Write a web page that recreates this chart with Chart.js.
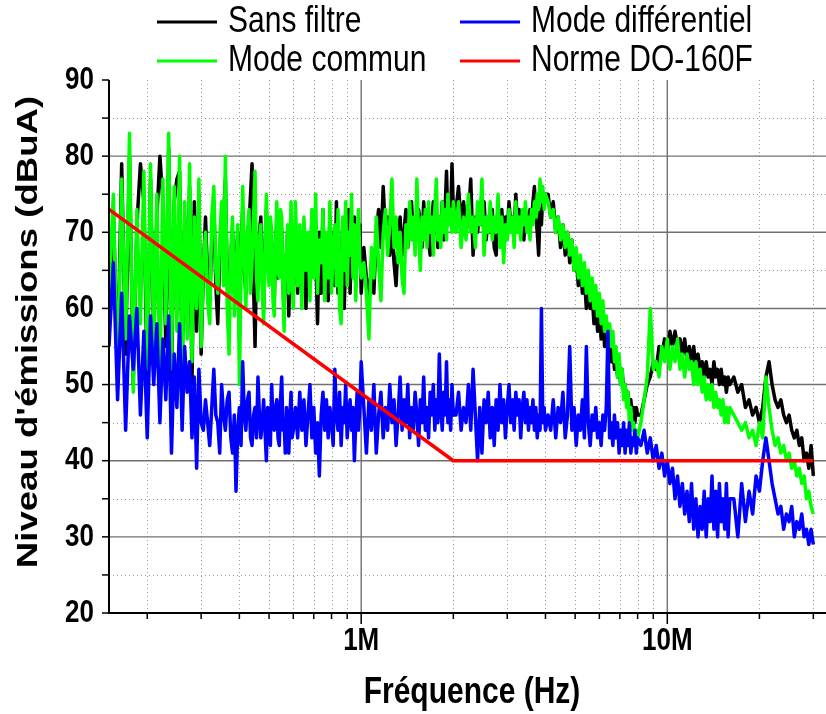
<!DOCTYPE html>
<html>
<head>
<meta charset="utf-8">
<script src="https://cdn.jsdelivr.net/npm/chart.js@4.4.0/dist/chart.umd.min.js"></script>
<style>
  html, body { margin: 0; padding: 0; background: #ffffff; }
  #wrap { width: 826px; height: 714px; }
</style>
</head>
<body>
<div id="wrap"><canvas id="c" width="826" height="714"></canvas></div>
<script>
// Frequencies in MHz (shared by the three measured spectra)
const freqMHz = [
  0.150,0.155,0.160,0.165,0.170,0.175,0.180,0.185,0.190,0.195,0.200,0.205,0.210,0.215,0.220,0.225,0.230,0.235,0.240,0.245,0.250,0.255,0.260,0.265,0.270,0.275,0.280,0.285,0.290,0.295,0.300,
  0.305,0.310,0.315,0.320,0.325,0.330,0.335,0.340,0.345,0.350,0.355,0.360,0.365,0.370,0.375,0.380,0.385,0.390,0.395,0.400,
  0.405,0.410,0.415,0.420,0.425,0.430,0.435,0.440,0.445,0.450,0.455,0.460,0.465,0.470,0.475,0.480,0.485,0.490,0.495,0.500,
  0.505,0.510,0.515,0.520,0.525,0.530,0.535,0.540,0.545,0.550,0.555,0.560,0.565,0.570,0.575,0.580,0.585,0.590,0.595,0.600,
  0.61,0.62,0.63,0.64,0.65,0.66,0.67,0.68,0.69,0.70,0.71,0.72,0.73,0.74,0.75,0.76,0.77,0.78,0.79,0.80,0.81,0.82,0.83,0.84,0.85,0.86,0.87,0.88,0.89,0.90,0.91,0.92,0.93,0.94,0.95,0.96,0.97,0.98,0.99,1.00,
  1.02,1.04,1.06,1.08,1.10,1.12,1.14,1.16,1.18,1.20,1.22,1.24,1.26,1.28,1.30,1.32,1.34,1.36,1.38,1.40,1.42,1.44,1.46,1.48,1.50,1.52,1.54,1.56,1.58,1.60,1.62,1.64,1.66,1.68,1.70,1.72,1.74,1.76,1.78,1.80,1.82,1.84,1.86,1.88,1.90,1.92,1.94,1.96,1.98,2.00,
  2.04,2.08,2.12,2.16,2.20,2.24,2.28,2.32,2.36,2.40,2.44,2.48,2.52,2.56,2.60,2.64,2.68,2.72,2.76,2.80,2.84,2.88,2.92,2.96,3.00,3.04,3.08,3.12,3.16,3.20,3.24,3.28,3.32,3.36,3.40,3.44,3.48,3.52,3.56,3.60,3.64,3.68,3.72,3.76,3.80,3.84,3.88,3.92,3.96,4.00,
  4.08,4.16,4.24,4.32,4.40,4.48,4.56,4.64,4.72,4.80,4.88,4.96,5.04,5.12,5.20,5.28,5.36,5.44,5.52,5.60,5.68,5.76,5.84,5.92,6.00,6.08,6.16,6.24,6.32,6.40,6.48,6.56,6.64,6.72,6.80,6.88,6.96,7.04,7.12,7.20,7.28,7.36,7.44,7.52,7.60,7.68,7.76,7.84,7.92,8.00,
  8.2,8.4,8.6,8.8,9.0,9.2,9.4,9.6,9.8,10.0,10.2,10.4,10.6,10.8,11.0,11.2,11.4,11.6,11.8,12.0,12.2,12.4,12.6,12.8,13.0,13.2,13.4,13.6,13.8,14.0,14.2,14.4,14.6,14.8,15.0,15.2,15.4,15.6,15.8,16.0,
  16.5,17.0,17.5,18.0,18.5,19.0,19.5,20.0,20.5,21.0,21.5,22.0,22.5,23.0,23.5,24.0,24.5,25.0,25.5,26.0,26.5,27.0,27.5,28.0,28.5,29.0,29.5,30.0
];

// Emission levels in dBuA
const sansFiltre = [
  58,73,52,79,54,80,50,71,79,74,50,77,56,72,80,74,55,81,50,74,77,78,52,72,58,76,50,74,57,75,54,
  65,72,64,61,69,74,63,58,67,70,72,77,64,60,67,70,62,66,70,56,
  68,73,65,62,68,71,75,79,63,55,66,64,70,72,64,60,68,73,67,65,
  71,68,63,61,69,71,64,66,72,70,63,60,65,67,70,59,66,72,68,63,
  70,62,68,64,71,60,69,63,72,65,68,58,70,62,73,64,69,61,72,66,70,63,74,62,68,65,71,60,67,64,73,62,70,65,72,63,69,66,71,62,
  68,64,61,66,62,70,73,68,76,70,72,67,71,66,63,69,72,67,70,73,68,71,74,69,72,70,73,71,68,74,70,72,69,67,71,74,70,73,68,72,70,74,69,73,78,71,74,72,79,73,
  73,76,71,74,70,72,77,67,72,70,73,71,74,69,72,70,73,68,67,72,70,73,69,72,70,74,71,72,70,75,71,73,70,72,69,73,71,70,73,71,74,76,72,70,67,73,71,75,74,75,
  75,72,74,70,72,68,71,67,70,66,69,65,67,63,66,62,64,60,63,60,62,58,61,57,60,56,59,55,58,54,57,53,55,52,54,51,53,50,52,49,50,48,49,47,48,46,47,45,47,46,
  46,48,50,51,53,52,55,54,56,54,57,55,57,55,56,54,56,53,55,53,55,52,54,52,53,51,53,51,52,50,53,51,52,50,52,50,51,49,51,50,
  51,49,50,47,48,46,47,45,47,51,53,50,48,47,48,46,45,46,44,43,44,42,43,40,41,39,42,38
];

const modeDifferentiel = [
  55,66,48,62,44,59,52,60,46,57,43,59,50,58,45,56,48,59,41,54,47,58,44,55,49,53,43,51,39,52,45,
  44,48,45,42,47,52,46,45,41,50,46,44,48,49,43,41,46,36,44,47,
  42,53,46,44,48,49,43,42,46,47,43,51,46,43,45,48,44,40,47,46,
  42,50,45,44,47,48,43,42,48,51,44,45,41,47,44,41,46,49,43,44,
  47,43,49,44,48,42,46,50,43,47,41,45,38,46,49,44,48,43,47,45,42,52,46,44,49,42,47,45,50,43,46,48,44,47,40,45,49,44,47,53,
  47,41,48,44,50,41,46,49,43,47,44,50,45,48,42,46,51,44,48,45,50,43,47,44,49,46,42,48,45,51,44,47,43,49,46,50,44,48,45,54,47,44,49,46,53,45,48,44,50,46,
  46,49,44,47,45,50,44,52,46,40,47,41,48,45,49,43,47,42,48,44,50,45,48,43,47,50,45,48,44,49,46,48,43,47,49,45,48,44,47,45,48,44,47,43,46,44,60,45,47,44,
  46,44,48,43,47,45,49,43,46,55,44,47,42,46,44,48,43,55,45,42,46,44,47,43,45,42,46,44,47,57,43,45,42,46,43,45,41,44,42,45,41,44,42,45,41,43,42,44,41,43,
  42,44,41,43,40,42,39,41,38,40,37,39,35,38,34,37,33,36,32,37,31,35,30,34,31,36,30,35,32,38,31,36,30,37,32,35,31,37,30,35,
  35,30,37,32,36,33,38,36,40,43,40,37,35,33,34,31,33,32,34,30,32,31,33,30,31,29,31,29
];

const modeCommun = [
  62,75,50,77,56,83,49,73,58,78,52,79,55,75,50,77,58,83,52,76,57,80,50,74,56,79,53,72,60,77,55,
  66,70,61,58,72,76,65,62,69,74,63,80,60,54,68,72,59,64,71,50,
  65,76,67,60,70,73,62,66,72,78,64,61,69,71,63,58,67,75,66,63,
  72,70,61,59,68,74,65,64,73,72,62,57,66,68,71,62,67,74,63,60,
  74,63,71,60,72,65,70,61,73,64,75,62,69,66,73,61,70,64,74,62,68,71,63,73,60,58,72,65,74,63,70,67,75,64,71,61,69,73,66,64,
  66,62,56,68,64,72,66,61,70,73,67,71,77,68,72,66,70,64,62,71,68,74,69,72,67,77,70,65,72,69,73,68,74,70,72,67,73,77,69,72,68,74,70,73,69,75,71,73,70,74,
  70,74,68,72,69,75,70,72,68,74,71,77,67,72,70,74,69,72,70,75,68,72,66,71,69,73,70,72,68,74,70,72,69,73,71,74,70,72,69,73,71,74,72,75,73,77,74,76,73,75,
  74,72,73,70,72,69,71,68,70,67,69,65,68,64,67,63,66,62,65,61,64,60,63,59,62,58,61,57,59,56,58,55,57,53,55,51,54,50,52,48,50,47,49,45,47,44,45,43,44,43,
  45,48,51,60,52,53,51,55,53,56,52,55,53,56,52,54,51,54,52,53,50,53,50,52,49,51,48,50,48,50,47,49,47,48,46,48,45,47,45,47,
  46,45,44,45,43,44,42,45,43,51,47,44,42,43,41,42,40,41,39,40,38,39,37,38,35,36,34,33
];

// DO-160F limit (breakpoints)
const normeFreq = [0.15, 2, 30];
const normeLevel = [73, 40, 40];

// Axis ticks
const yMajorTicks = [20, 30, 40, 50, 60, 70, 80, 90];
const yMinorTicks = [25, 35, 45, 55, 65, 75, 85];
const xMajorTicks = [1, 10];
const xMajorLabels = ['1M', '10M'];
const xMinorTicks = [0.2, 0.3, 0.4, 0.5, 0.6, 0.7, 0.8, 0.9, 2, 3, 4, 5, 6, 7, 8, 9, 20, 30];

const seriesNames = ['Sans filtre', 'Mode différentiel', 'Mode commun', 'Norme DO-160F'];
const seriesColors = ['#000000', '#0000ff', '#00ff00', '#ff0000'];

const toPoints = (xs, ys) => xs.map((f, i) => ({ x: f, y: ys[i] }));

const FONT = "'Liberation Sans', Arial, Helvetica, sans-serif";
const TEXT_STRETCH = 1.22;

// Text drawn with a vertical stretch (tall, narrow lettering)
function drawText(ctx, text, x, y, font, align, rotated) {
  ctx.save();
  ctx.translate(x, y);
  ctx.scale(1, TEXT_STRETCH);
  if (rotated) ctx.rotate(-Math.PI / 2);
  ctx.font = font;
  ctx.fillStyle = '#000000';
  ctx.textAlign = align;
  ctx.textBaseline = 'middle';
  ctx.fillText(text, 0, 0);
  ctx.restore();
}

const gridPlugin = {
  id: 'plotGrid',
  beforeDatasetsDraw(chart) {
    const { ctx, chartArea: a, scales: { x, y } } = chart;
    ctx.save();
    // dotted minor grid
    ctx.strokeStyle = '#9a9a9a';
    ctx.lineWidth = 1;
    ctx.setLineDash([1, 3]);
    yMinorTicks.forEach(v => {
      const py = Math.round(y.getPixelForValue(v)) + 0.5;
      ctx.beginPath(); ctx.moveTo(a.left, py); ctx.lineTo(a.right, py); ctx.stroke();
    });
    xMinorTicks.forEach(v => {
      const px = Math.round(x.getPixelForValue(v)) + 0.5;
      ctx.beginPath(); ctx.moveTo(px, a.top); ctx.lineTo(px, a.bottom); ctx.stroke();
    });
    // solid major grid
    ctx.setLineDash([]);
    ctx.strokeStyle = '#707070';
    ctx.lineWidth = 1.4;
    yMajorTicks.filter(v => v > 20 && v < 90).forEach(v => {
      const py = y.getPixelForValue(v);
      ctx.beginPath(); ctx.moveTo(a.left, py); ctx.lineTo(a.right, py); ctx.stroke();
    });
    xMajorTicks.forEach(v => {
      const px = x.getPixelForValue(v);
      ctx.beginPath(); ctx.moveTo(px, a.top); ctx.lineTo(px, a.bottom); ctx.stroke();
    });
    ctx.restore();
  }
};

const framePlugin = {
  id: 'plotFrame',
  afterDatasetsDraw(chart) {
    const { ctx, chartArea: a, scales: { x, y } } = chart;
    ctx.save();
    ctx.strokeStyle = '#000000';
    ctx.lineWidth = 2;
    // axis lines
    ctx.beginPath(); ctx.moveTo(a.left, a.top); ctx.lineTo(a.left, a.bottom); ctx.stroke();
    ctx.beginPath(); ctx.moveTo(a.left - 1, a.bottom); ctx.lineTo(a.right, a.bottom); ctx.stroke();
    // y ticks
    ctx.lineWidth = 1.5;
    yMajorTicks.concat(yMinorTicks).forEach(v => {
      const py = y.getPixelForValue(v);
      ctx.beginPath(); ctx.moveTo(a.left - 7, py); ctx.lineTo(a.left, py); ctx.stroke();
    });
    // x ticks
    xMinorTicks.forEach(v => {
      const px = x.getPixelForValue(v);
      ctx.beginPath(); ctx.moveTo(px, a.bottom); ctx.lineTo(px, a.bottom + 6); ctx.stroke();
    });
    xMajorTicks.forEach(v => {
      const px = x.getPixelForValue(v);
      ctx.beginPath(); ctx.moveTo(px, a.bottom); ctx.lineTo(px, a.bottom + 11); ctx.stroke();
    });
    // tick labels
    const tickFont = `bold 26px ${FONT}`;
    yMajorTicks.forEach(v => drawText(ctx, String(v), a.left - 15, y.getPixelForValue(v), tickFont, 'right'));
    xMajorTicks.forEach((v, i) => drawText(ctx, xMajorLabels[i], x.getPixelForValue(v), a.bottom + 28, tickFont, 'center'));
    // axis titles
    drawText(ctx, 'Fréquence (Hz)', 472, 693, `bold 30px ${FONT}`, 'center');
    drawText(ctx, "Niveau d'émissions (dBuA)", 29, 332, `bold 30px ${FONT}`, 'center', true);
    // legend, two columns
    const cols = [157, 460];
    const rows = [22, 61];
    chart.data.datasets.forEach((ds, i) => {
      const lx = cols[i % 2];
      const ly = rows[Math.floor(i / 2)];
      ctx.strokeStyle = ds.borderColor;
      ctx.lineWidth = 3;
      ctx.beginPath(); ctx.moveTo(lx, ly); ctx.lineTo(lx + 60, ly); ctx.stroke();
      drawText(ctx, ds.label, lx + 71, ly, `30px ${FONT}`, 'left');
    });
    ctx.restore();
  }
};

const lineStyle = (i, order, width) => ({
  label: seriesNames[i],
  borderColor: seriesColors[i],
  backgroundColor: seriesColors[i],
  borderWidth: width,
  pointRadius: 0,
  tension: 0,
  borderJoinStyle: 'round',
  order: order
});

new Chart(document.getElementById('c'), {
  type: 'line',
  data: {
    datasets: [
      Object.assign(lineStyle(0, 3, 3.5), { data: toPoints(freqMHz, sansFiltre) }),
      Object.assign(lineStyle(1, 1, 3.5), { data: toPoints(freqMHz, modeDifferentiel) }),
      Object.assign(lineStyle(2, 2, 3.5), { data: toPoints(freqMHz, modeCommun) }),
      Object.assign(lineStyle(3, 0, 3.5), { data: toPoints(normeFreq, normeLevel) })
    ]
  },
  options: {
    responsive: false,
    animation: false,
    devicePixelRatio: 1,
    layout: { padding: { left: 109, top: 80, right: 0, bottom: 101 } },
    scales: {
      x: { type: 'logarithmic', min: 0.15, max: 33, display: false },
      y: { type: 'linear', min: 20, max: 90, display: false }
    },
    plugins: {
      legend: { display: false },
      tooltip: { enabled: false }
    }
  },
  plugins: [gridPlugin, framePlugin]
});
</script>
</body>
</html>
